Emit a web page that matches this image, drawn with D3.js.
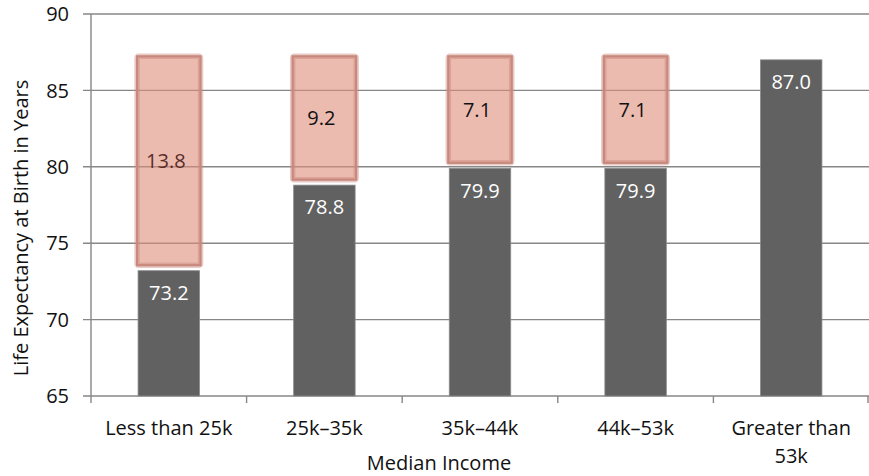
<!DOCTYPE html>
<html><head><meta charset="utf-8">
<script src="https://cdn.jsdelivr.net/npm/d3@7"></script>
<style>
html,body{margin:0;padding:0;background:#fff;}
svg{display:block;}
text{font-family:"Open Sans","Noto Sans",sans-serif;}
</style></head>
<body>
<svg id="chart" width="869" height="476"></svg>
<script>
const categories = ["Less than 25k", "25k–35k", "35k–44k", "44k–53k", "Greater than 53k"];
const categoryLines = [["Less than 25k"], ["25k–35k"], ["35k–44k"], ["44k–53k"], ["Greater than", "53k"]];
const lifeExpectancy = [73.2, 78.8, 79.9, 79.9, 87.0];
const gapToTop = [13.8, 9.2, 7.1, 7.1, null];
const yTicks = [65, 70, 75, 80, 85, 90];
const yTitle = "Life Expectancy at Birth in Years";
const xTitle = "Median Income";

(function () {
const svg = d3.select("#chart");
const mLeft = 91, mRight = 869, mTop = 14, mBottom = 396;
const FS = 20;

const x = d3.scaleBand().domain(categories).range([mLeft, mRight]).padding(0);
const y = d3.scaleLinear().domain([65, 90]).range([mBottom, mTop]);
const barW = x.bandwidth() * 0.395;
const refTop = d3.max(lifeExpectancy);
const cx = c => x(c) + x.bandwidth() / 2;

// gridlines
svg.append("g").selectAll("line").data(yTicks).join("line")
  .attr("x1", mLeft - 8).attr("x2", mRight)
  .attr("y1", d => y(d)).attr("y2", d => y(d))
  .attr("stroke", "#878787").attr("stroke-width", 1.4);

// y tick labels
svg.append("g").selectAll("text").data(yTicks).join("text")
  .attr("x", 69).attr("y", d => y(d)).attr("dy", "0.36em")
  .attr("text-anchor", "end").attr("font-size", FS).attr("fill", "#111")
  .text(d => d);

// left axis line
svg.append("line").attr("x1", mLeft).attr("x2", mLeft).attr("y1", mTop).attr("y2", mBottom)
  .attr("stroke", "#878787").attr("stroke-width", 1.4);

// x ticks at band boundaries
const bounds = categories.map(c => x(c)).concat([mRight - 1]);
svg.append("g").selectAll("line").data(bounds).join("line")
  .attr("x1", d => d).attr("x2", d => d).attr("y1", mBottom).attr("y2", mBottom + 7)
  .attr("stroke", "#878787").attr("stroke-width", 1.4);

// gap boxes
const gapData = categories.map((c, i) => ({c, v: lifeExpectancy[i], g: gapToTop[i]})).filter(d => d.g != null);
const gb = svg.append("g");
const bx = d => cx(d.c) - barW / 2 - 1;
const by = d => y(refTop) - 3.5;
const bh = d => y(d.v) - 5.5 - by(d);
gb.selectAll("rect.halo").data(gapData).join("rect").attr("class", "halo")
  .attr("x", bx).attr("width", barW + 2)
  .attr("y", by).attr("height", bh)
  .attr("fill", "rgb(222,142,123)").attr("fill-opacity", 0.6)
  .attr("stroke", "rgb(205,140,126)").attr("stroke-opacity", 0.45).attr("stroke-width", 5.5)
  .attr("rx", 1.5);
gb.selectAll("rect.edge").data(gapData).join("rect").attr("class", "edge")
  .attr("x", bx).attr("width", barW + 2)
  .attr("y", by).attr("height", bh)
  .attr("fill", "none")
  .attr("stroke", "#c8887d").attr("stroke-width", 2.2);
gb.selectAll("text").data(gapData).join("text")
  .attr("x", d => cx(d.c) - 3)
  .attr("y", d => by(d) + bh(d) / 2).attr("dy", "0.36em")
  .attr("text-anchor", "middle").attr("font-size", FS)
  .attr("fill", (d, i) => i === 0 ? "#5a2c26" : "#111")
  .text(d => d3.format(".1f")(d.g));

// bars
const bars = svg.append("g");
bars.selectAll("rect").data(categories).join("rect")
  .attr("x", c => cx(c) - barW / 2)
  .attr("width", barW)
  .attr("y", (c, i) => y(lifeExpectancy[i]))
  .attr("height", (c, i) => mBottom - y(lifeExpectancy[i]))
  .attr("fill", "#616161").attr("stroke", "#8a8a8a").attr("stroke-width", 0.8);
bars.selectAll("text").data(categories).join("text")
  .attr("x", cx)
  .attr("y", (c, i) => y(lifeExpectancy[i]) + 22).attr("dy", "0.36em")
  .attr("text-anchor", "middle").attr("font-size", FS).attr("fill", "#fff")
  .text((c, i) => d3.format(".1f")(lifeExpectancy[i]));

// x labels
const xl = svg.append("g").selectAll("text").data(categories).join("text")
  .attr("x", cx)
  .attr("y", 435)
  .attr("text-anchor", "middle").attr("font-size", FS).attr("fill", "#111");
xl.each(function(c, i) {
  d3.select(this).selectAll("tspan").data(categoryLines[i]).join("tspan")
    .attr("x", cx(c))
    .attr("dy", (d, j) => j === 0 ? 0 : 28)
    .text(d => d);
});

// axis titles
svg.append("text").attr("x", 439).attr("y", 469.5)
  .attr("text-anchor", "middle").attr("font-size", FS).attr("fill", "#111").text(xTitle);
svg.append("text").attr("transform", `translate(28,228) rotate(-90)`)
  .attr("text-anchor", "middle").attr("font-size", FS).attr("fill", "#111").text(yTitle);
})();
</script>
</body></html>
